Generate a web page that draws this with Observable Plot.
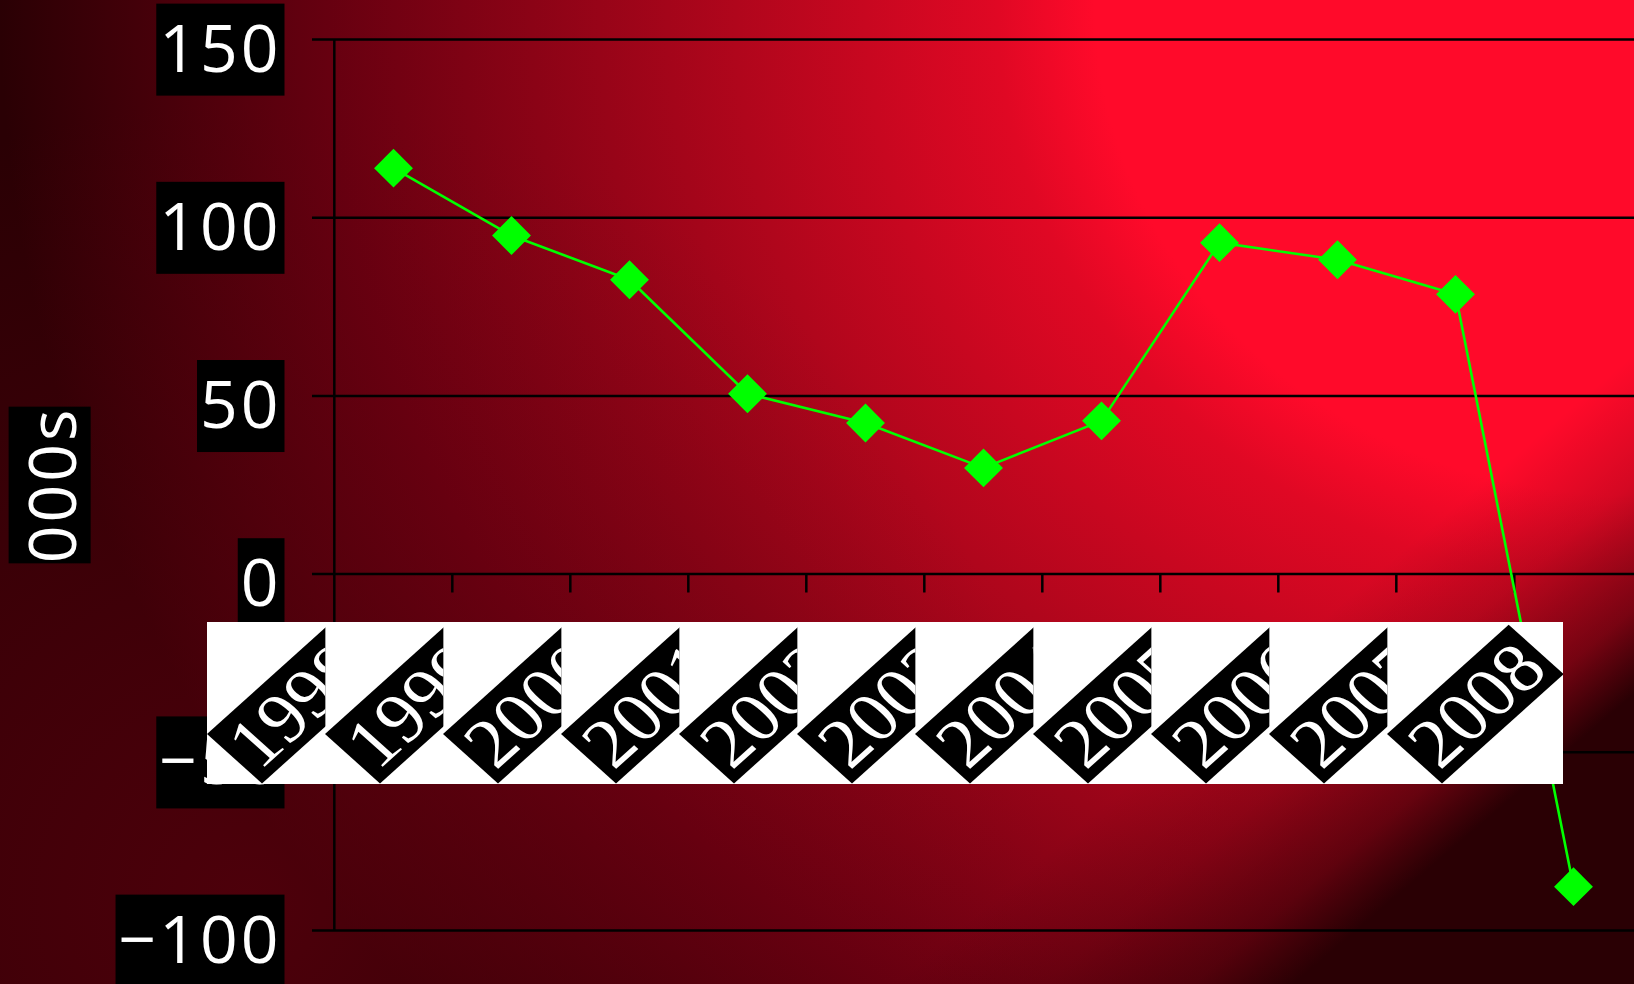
<!DOCTYPE html>
<html><head><meta charset="utf-8">
<script src="https://cdn.jsdelivr.net/npm/d3@7"></script>
<script src="https://cdn.jsdelivr.net/npm/@observablehq/plot@0.6"></script>
<style>html,body{margin:0;padding:0;background:#2a0004;overflow:hidden} svg{display:block}</style>
</head><body>
<script>
// ---- data ----
const years = ["1998","1999","2000","2001","2002","2003","2004","2005","2006","2007","2008"];
const values = [113.9, 95.0, 82.6, 50.6, 42.4, 29.8, 43.0, 93.0, 88.2, 78.5, -87.7];
const yTicks = [-100, -50, 0, 50, 100, 150];
const yLabel = "000s";

const data = years.map((year, i) => ({year, value: values[i]}));

// ---- layout ----
const W = 1634, H = 984, mL = 332, mR = 0, mT = 39, mB = 54;
const step = (W - mL - mR) / years.length;
const axisBlack = "black";

const chart = Plot.plot({
  width: W, height: H,
  marginLeft: mL, marginRight: mR, marginTop: mT, marginBottom: mB,
  style: {background: "none", fontFamily: "Open Sans", overflow: "visible"},
  x: {type: "point", domain: years, padding: 0.5},
  y: {domain: [-100, 150]},
  marks: [
    Plot.gridY(yTicks, {stroke: axisBlack, strokeOpacity: 1, strokeWidth: 2.5, insetLeft: -20}),
    Plot.ruleX([years[0]], {y1: -100, y2: 150, dx: -step / 2, stroke: axisBlack, strokeWidth: 2.5}),
    Plot.ruleX(years.slice(1), {y1: 0, y2: -5.3, dx: -step / 2, stroke: axisBlack, strokeWidth: 2.5}),
    Plot.axisY(yTicks, {tickSize: 0, tickPadding: 51, dy: 11, fontSize: 66, fill: "white", label: null, fontFamily: "Open Sans"}),
    Plot.text([yLabel], {frameAnchor: "left", textAnchor: "middle", dx: -278, rotate: -90, fontSize: 66, fill: "white", fontFamily: "Open Sans"}),
    Plot.line(data, {x: "year", y: "value", stroke: "#00ff00", strokeWidth: 2.6}),
    Plot.dot(data, {x: "year", y: "value", symbol: "diamond2", r: 17.5, fill: "#00ff00", stroke: "none"}),
    Plot.axisX(years, {tickSize: 0, label: null, fontSize: 62})
  ]
});

document.body.appendChild(chart);
const svg = chart.tagName.toLowerCase() === "svg" ? chart : chart.querySelector("svg");
const NS = "http://www.w3.org/2000/svg";
function el(name, attrs) {
  const e = document.createElementNS(NS, name);
  for (const k in attrs) e.setAttribute(k, attrs[k]);
  return e;
}

// ---- background ----
const defs = el("defs", {});
defs.innerHTML = `
  <radialGradient id="bgBase" gradientUnits="userSpaceOnUse" cx="1634" cy="0" r="1634"
     gradientTransform="translate(1634,0) scale(1,0.918) translate(-1634,0)">
    <stop offset="0" stop-color="#ff0a2a"/>
    <stop offset="0.33" stop-color="#ff0a2a"/>
    <stop offset="0.39" stop-color="#e00824"/>
    <stop offset="0.55" stop-color="#b0061c"/>
    <stop offset="0.80" stop-color="#660010"/>
    <stop offset="1" stop-color="#2a0004"/>
  </radialGradient>
  <radialGradient id="bgLift" gradientUnits="userSpaceOnUse" cx="250" cy="900" r="800">
    <stop offset="0" stop-color="#6a0010" stop-opacity="0.55"/>
    <stop offset="1" stop-color="#6a0010" stop-opacity="0"/>
  </radialGradient>
  <linearGradient id="bgShade" gradientUnits="userSpaceOnUse" x1="860.5" y1="1011.9" x2="1028.4" y2="1209.3">
    <stop offset="0" stop-color="#2a0004" stop-opacity="0"/>
    <stop offset="0.375" stop-color="#2a0004" stop-opacity="0.2"/>
    <stop offset="0.75" stop-color="#2a0004" stop-opacity="0.55"/>
    <stop offset="1" stop-color="#2a0004" stop-opacity="1"/>
  </linearGradient>`;
svg.insertBefore(defs, svg.firstChild);
let after = defs;
for (const f of ["bgBase", "bgLift", "bgShade"]) {
  const r = el("rect", {x: 0, y: 0, width: W, height: H, fill: `url(#${f})`});
  svg.insertBefore(r, after.nextSibling);
  after = r;
}

// ---- black boxes behind y tick labels and y label ----
function boxBehind(text, padX, padY, shiftY) {
  text.setAttribute("letter-spacing", "3");
  const b = text.getBBox();
  const r = el("rect", {x: b.x - padX, y: b.y - padY + shiftY, width: b.width + 2 * padX, height: b.height + 2 * padY, fill: "black"});
  const t = text.getAttribute("transform");
  if (t) r.setAttribute("transform", t);
  text.parentNode.insertBefore(r, text);
}
svg.querySelectorAll('g[aria-label="y-axis tick label"] text').forEach(t => boxBehind(t, 3, 1, 4));
svg.querySelectorAll('g[aria-label="text"] text').forEach(t => boxBehind(t, 0, -4, 0));

// ---- x tick labels: white band with clipped, rotated black label tags ----
const xs = chart.scale("x");
const xTexts = Array.from(svg.querySelectorAll('g[aria-label="x-axis tick label"] text'));
const band = el("g", {"aria-label": "x-axis labels band"});
const shift = -186, bandTop = 622, bandBottom = 784, anchorY = 734;
const tagLen = 154.6, tagThick = 69.9, lastExtent = 176;
const firstLeft = xs.apply(years[0]) + shift;
const lastLeft = xs.apply(years[years.length - 1]) + shift;
band.appendChild(el("rect", {x: firstLeft, y: bandTop, width: lastLeft + lastExtent - firstLeft, height: bandBottom - bandTop, fill: "white"}));
xTexts.forEach((t, i) => {
  const label = t.textContent;
  const left = xs.apply(label) + shift;
  const isLast = label === years[years.length - 1];
  const cid = "cell" + i;
  const cp = el("clipPath", {id: cid});
  cp.appendChild(el("rect", {x: left, y: bandTop - 10, width: isLast ? lastExtent : step, height: bandBottom - bandTop + 16}));
  defs.appendChild(cp);
  const cell = el("g", {"clip-path": `url(#${cid})`});
  const tag = el("g", {transform: `translate(${left},${anchorY}) scale(1.113,1) rotate(-45)`});
  tag.appendChild(el("rect", {x: 0, y: 0, width: tagLen, height: tagThick, fill: "black"}));
  const txt = el("text", {x: tagLen / 2, y: tagThick / 2 + 1, "text-anchor": "middle", "dominant-baseline": "central",
    fill: "white", "font-family": "Liberation Serif", "font-size": 70});
  txt.textContent = label;
  tag.appendChild(txt);
  cell.appendChild(tag);
  band.appendChild(cell);
});
const xAxisG = svg.querySelector('g[aria-label="x-axis tick label"]');
if (xAxisG) xAxisG.remove();
svg.appendChild(band);
</script></body></html>
